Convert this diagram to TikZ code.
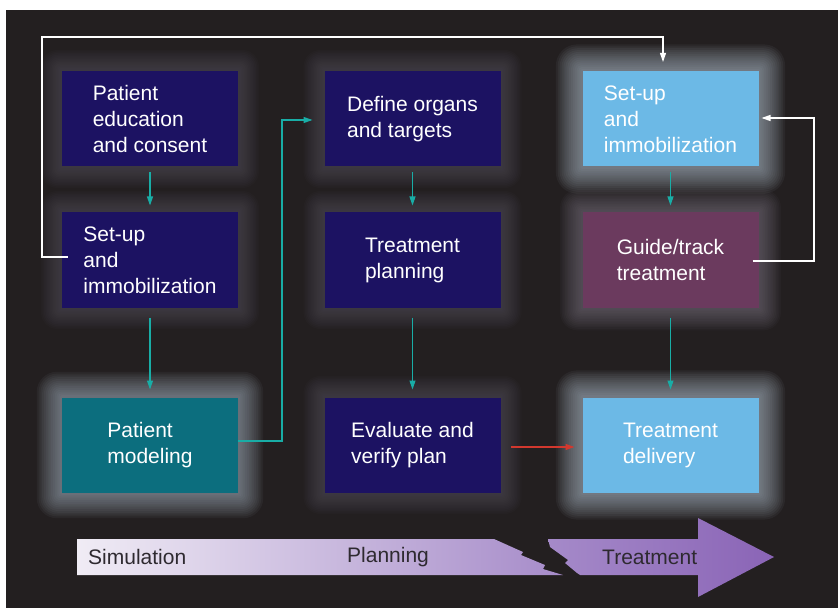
\documentclass[tikz,border=0pt]{standalone}
\usepackage{fontspec}
\setmainfont{Liberation Sans}
\usetikzlibrary{arrows.meta,calc}
\definecolor{bg}{HTML}{231F20}
\definecolor{navy}{HTML}{1C1262}
\definecolor{tealbox}{HTML}{0C6E7E}
\definecolor{skyb}{HTML}{6CB9E6}
\definecolor{plum}{HTML}{6B3A5E}
\definecolor{tealarr}{HTML}{19ADA6}
\definecolor{redarr}{HTML}{D2382E}
\definecolor{glowdark}{HTML}{646070}
\definecolor{glowlight}{HTML}{B4C4D2}
\definecolor{glowmid}{HTML}{847C8C}
\definecolor{bandtext}{HTML}{2E2A30}
\definecolor{bandA}{HTML}{F0ECF5}
\definecolor{bandB}{HTML}{A68BC9}
\definecolor{bandC}{HTML}{A58AC9}
\definecolor{bandD}{HTML}{8A64B6}
\begin{document}
\begin{tikzpicture}[x=1bp,y=-1bp,
  box/.style={minimum width=176bp,minimum height=95bp,inner sep=0pt,outer sep=0pt,
    align=left,text=white,font=\fontsize{21bp}{26bp}\selectfont},
  tarrow/.style={draw=tealarr,line width=1.1bp,-{Triangle[length=9bp,width=6bp]}},
  rarrow/.style={draw=redarr,line width=1.1bp,-{Triangle[length=9bp,width=6bp]}},
  warrow/.style={draw=white,line width=1.1bp,-{Triangle[length=9bp,width=6bp]}},
  bandlabel/.style={anchor=west,inner sep=0pt,text=bandtext,font=\fontsize{21bp}{26bp}\selectfont}]
\useasboundingbox (0,0) rectangle (838,608);
\fill[white] (0,0) rectangle (838,608);
\fill[bg] (6,10) rectangle (838,608);
% glows
\foreach \cx/\cy/\gc/\op/\st in {150/119/glowdark/0.045/1.5, 150/260/glowdark/0.045/1.5, 150/445/glowlight/0.05/1.8,
  412.5/119/glowdark/0.045/1.5, 412.5/260/glowdark/0.045/1.5, 412.5/445/glowdark/0.045/1.5,
  670.5/119/glowlight/0.06/1.9, 670.5/260/glowmid/0.05/1.6, 670.5/445/glowlight/0.06/1.9}{
  \foreach \i in {1,...,14}{
    \pgfmathsetmacro\d{\i*\st}
    \pgfmathsetmacro\rc{\d*0.8}
    \fill[\gc, fill opacity=\op, rounded corners=\rc pt] (\cx-88-\d,\cy-48-\d) rectangle (\cx+88+\d,\cy+48+\d);
  }
}
% boxes
\node[box,fill=navy] (b11) at (150,119) {Patient\\education\\and consent};
\node[box,fill=navy] (b12) at (150,260) {Set-up\\and\\immobilization};
\node[box,fill=tealbox] (b13) at (150,445) {Patient\\modeling};
\node[box,fill=navy] (b21) at (412.5,119) {Define organs\\and targets};
\node[box,fill=navy] (b22) at (412.5,260) {Treatment\\planning};
\node[box,fill=navy] (b23) at (412.5,445) {Evaluate and\\verify plan};
\node[box,fill=skyb] (b31) at (670.5,119) {Set-up\\and\\immobilization};
\node[box,fill=plum] (b32) at (670.5,260) {Guide/track\\treatment};
\node[box,fill=skyb] (b33) at (670.5,445) {Treatment\\delivery};
% teal arrows
\draw[tarrow,shorten <=6bp,shorten >=7bp] (b11) -- (b12);
\draw[tarrow,shorten <=10bp,shorten >=8bp] (b12) -- (b13);
\draw[tarrow,shorten <=6bp,shorten >=7bp] (b21) -- (b22);
\draw[tarrow,shorten <=10bp,shorten >=8bp] (b22) -- (b23);
\draw[tarrow,shorten <=6bp,shorten >=7bp] (b31) -- (b32);
\draw[tarrow,shorten <=10bp,shorten >=8bp] (b32) -- (b33);
\coordinate (jA) at (282,120);
\draw[tarrow,shorten >=12bp] ([yshift=4bp]b13.east) -| (jA) -- ([yshift=-1bp]b21.west);
% red arrow
\draw[rarrow,shorten <=10bp,shorten >=8bp] ([yshift=-2bp]b23.east) -- ([yshift=-2bp]b33.west);
% white loops
\coordinate (wA) at (42,37);
\coordinate (wT) at (663,72);
\draw[warrow,shorten >=10bp] ([xshift=6bp,yshift=3bp]b12.west) -| (wA) -| (wT);
\coordinate (wB) at (814,118);
\draw[warrow,shorten >=3bp] ([xshift=-6bp,yshift=-1bp]b32.east) -| (wB) -- (b31.east |- wB);
% bottom band
\shade[left color=bandA, right color=bandB]
  (77,539) -- (494,539) -- (523,552) -- (521,555) -- (545,565) -- (543,569) -- (563,575) -- (77,575) -- cycle;
\shade[left color=bandC, right color=bandD]
  (548,539) -- (698,539) -- (698,518) -- (774,557) -- (698,597) -- (698,575) -- (580,575)
  -- (577,573) -- (565,563) -- (568,560) -- (550,547) -- cycle;
\node[bandlabel] (lsim) at (88,557) {Simulation};
\node[bandlabel] (lplan) at (347,557) {Planning};
\node[bandlabel] (ltreat) at (602,557) {Treatment};
\end{tikzpicture}
\end{document}
